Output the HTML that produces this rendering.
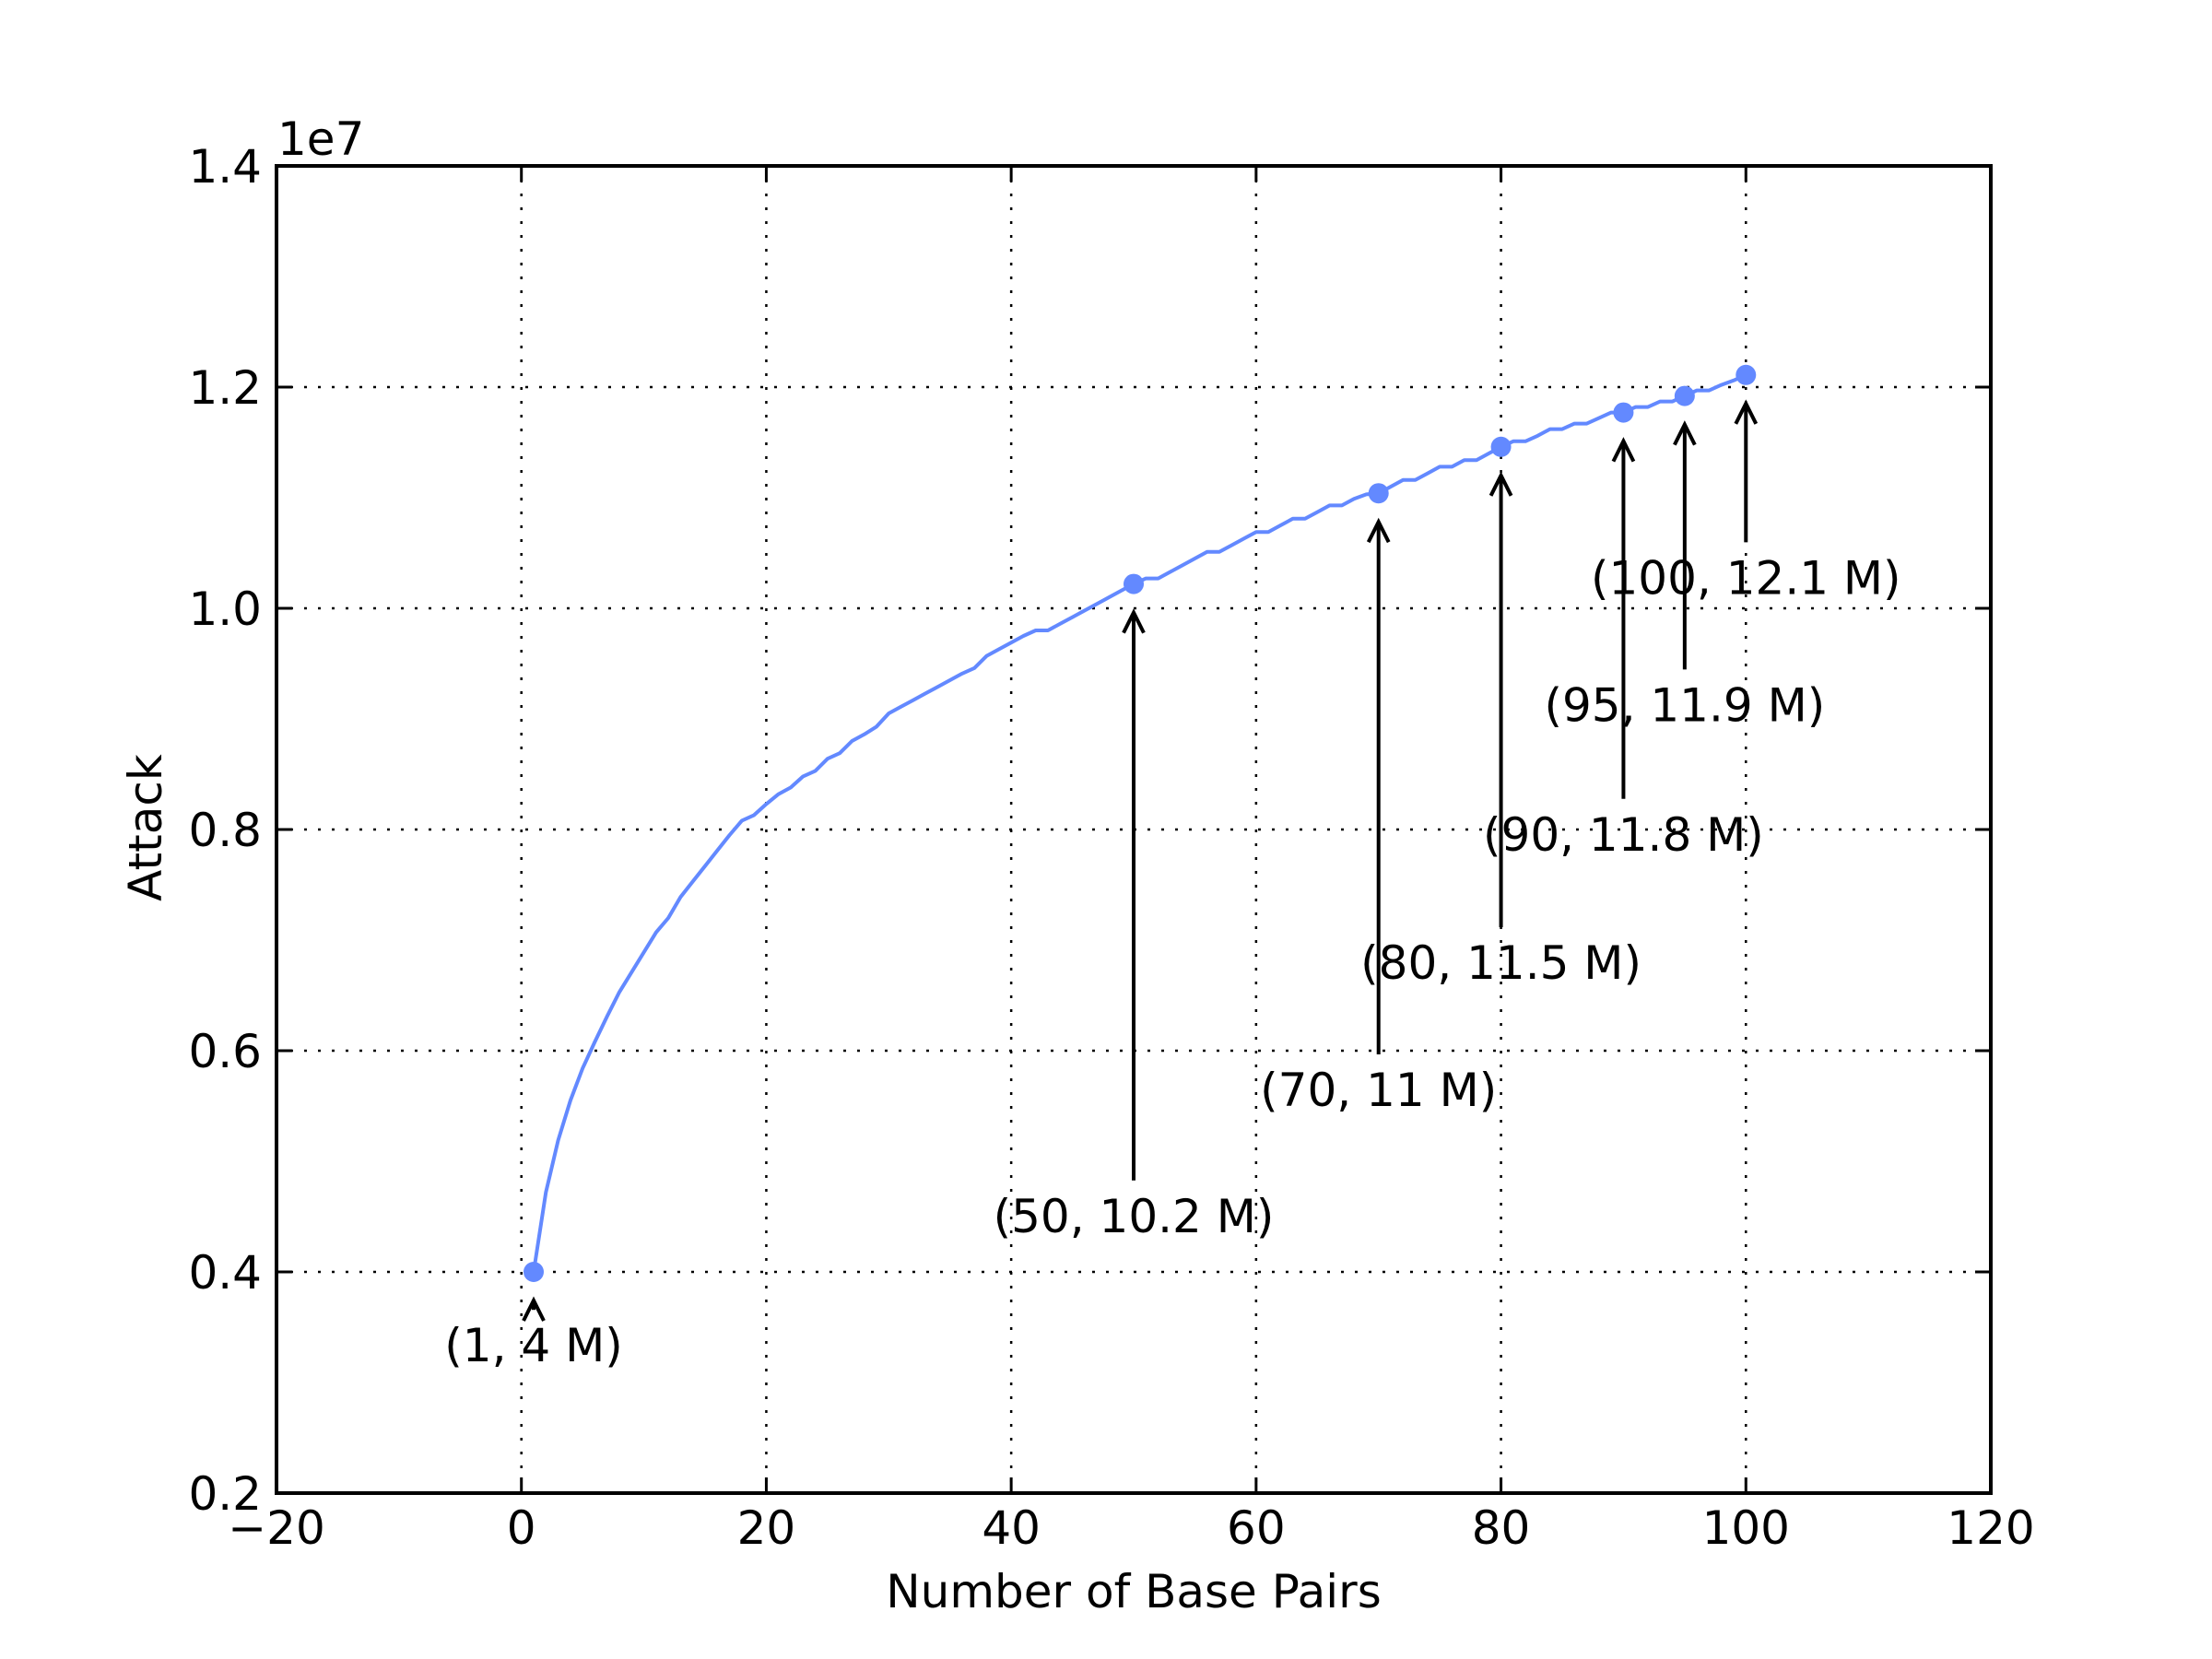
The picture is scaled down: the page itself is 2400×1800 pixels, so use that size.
<!DOCTYPE html>
<html><head><meta charset="utf-8"><style>
html,body{margin:0;padding:0;background:#fff;}
svg{display:block;font-family:"DejaVu Sans","Liberation Sans",sans-serif;}
</style></head><body>
<svg id="chart" width="2400" height="1800" viewBox="0 0 2400 1800" xmlns="http://www.w3.org/2000/svg">
<rect width="2400" height="1800" fill="#fff"/>
<g id="grid"></g>
<g id="series"></g>
<g id="annots"></g>
<rect x="300" y="180" width="1860" height="1440" fill="none" stroke="#000" stroke-width="4"/>
<g id="ticks"></g>
<text x="301" y="168" font-size="50">1e7</text>
<text x="1230" y="1744" font-size="50" text-anchor="middle">Number of Base Pairs</text>
<text x="0" y="0" font-size="50" text-anchor="middle" transform="translate(175,898) rotate(-90)">Attack</text>
</svg>
<script>
const xTicks=[-20,0,20,40,60,80,100,120];
const xTickLabels=["\u221220","0","20","40","60","80","100","120"];
const yTicks=[0.2,0.4,0.6,0.8,1.0,1.2,1.4];
const yTickLabels=["0.2","0.4","0.6","0.8","1.0","1.2","1.4"];
const attackM=[4.00,4.72,5.19,5.55,5.84,6.08,6.31,6.53,6.71,6.89,7.07,7.20,7.39,7.53,7.67,7.81,7.95,8.08,8.13,8.23,8.32,8.38,8.48,8.53,8.64,8.69,8.80,8.86,8.93,9.05,9.11,9.17,9.23,9.29,9.35,9.41,9.46,9.57,9.63,9.69,9.75,9.80,9.80,9.86,9.92,9.98,10.04,10.10,10.16,10.22,10.27,10.27,10.33,10.39,10.45,10.51,10.51,10.57,10.63,10.69,10.69,10.75,10.81,10.81,10.87,10.93,10.93,10.99,11.03,11.04,11.10,11.16,11.16,11.22,11.28,11.28,11.34,11.34,11.40,11.46,11.51,11.51,11.56,11.62,11.62,11.67,11.67,11.72,11.77,11.77,11.82,11.82,11.87,11.87,11.92,11.97,11.97,12.02,12.06,12.11];
const basePairs=attackM.map((v,i)=>i+1);
const markedX=[1,50,70,80,90,95,100];
const markedLabels=["(1, 4 M)","(50, 10.2 M)","(70, 11 M)","(80, 11.5 M)","(90, 11.8 M)","(95, 11.9 M)","(100, 12.1 M)"];
const labelY=[0.334,0.451,0.565,0.680,0.796,0.913,1.028]; // label text centre in data units (1e7)

const NS="http://www.w3.org/2000/svg";
const X0=300,X1=2160,Y0=1620,Y1=180;
const xs=v=>X0+(v+20)/140*(X1-X0);
const ys=v=>Y0-(v-0.2)/1.2*(Y0-Y1);
function mk(tag,attrs,parent){const e=document.createElementNS(NS,tag);for(const k in attrs)e.setAttribute(k,attrs[k]);parent.appendChild(e);return e;}
const grid=document.getElementById('grid'),ticks=document.getElementById('ticks'),series=document.getElementById('series'),annots=document.getElementById('annots');

xTicks.forEach((t,i)=>{
  const x=xs(t);
  if(i>0&&i<xTicks.length-1){
    const g=mk('line',{x1:x,x2:x,y1:Y1,y2:Y0,stroke:'#000','stroke-width':2.5,'stroke-dasharray':'3 12'},grid);
    
    
  }
  const a=mk('line',{x1:x,x2:x,y1:Y0,y2:Y0-17,stroke:'#000','stroke-width':3},ticks);
  
  
  const b=mk('line',{x1:x,x2:x,y1:Y1,y2:Y1+17,stroke:'#000','stroke-width':3},ticks);
  
  
  const l=mk('text',{x:x,y:1675,'font-size':50,'text-anchor':'middle'},ticks);
  l.textContent=xTickLabels[i];
  
  
});
yTicks.forEach((t,i)=>{
  const y=ys(t);
  if(i>0&&i<yTicks.length-1){
    const g=mk('line',{x1:X0,x2:X1,y1:y,y2:y,stroke:'#000','stroke-width':2.5,'stroke-dasharray':'3 12'},grid);
    
    
  }
  const a=mk('line',{x1:X0,x2:X0+17,y1:y,y2:y,stroke:'#000','stroke-width':3},ticks);
  
  
  const b=mk('line',{x1:X1,x2:X1-17,y1:y,y2:y,stroke:'#000','stroke-width':3},ticks);
  
  
  const l=mk('text',{x:X0-16,y:y+18,'font-size':50,'text-anchor':'end'},ticks);
  l.textContent=yTickLabels[i];
  
  
});

const pts=basePairs.map((b,i)=>xs(b).toFixed(1)+','+ys(attackM[i]/10).toFixed(1)).join(' ');
const line=mk('polyline',{points:pts,fill:'none',stroke:'#6389ff','stroke-width':4,'stroke-linejoin':'round'},series);



markedX.forEach((bx,i)=>{
  const v=attackM[bx-1]/10;
  const cx=xs(bx),cy=ys(v);
  const c=mk('circle',{cx:cx,cy:cy,r:11,fill:'#6389ff'},series);
  
  
  const textY=ys(labelY[i]);
  const tip=cy+31, tail=textY-38;
  const g=mk('g',{},annots);
  
  
  mk('line',{x1:cx,x2:cx,y1:tail,y2:tip+2,stroke:'#000','stroke-width':4},g);
  mk('polyline',{points:`${cx-11},${tip+22} ${cx},${tip} ${cx+11},${tip+22}`,fill:'none',stroke:'#000','stroke-width':4},g);
  const t=mk('text',{x:cx,y:textY+18,'font-size':50,'text-anchor':'middle'},g);
  t.textContent=markedLabels[i];
  
  
});
</script>
</body></html>
